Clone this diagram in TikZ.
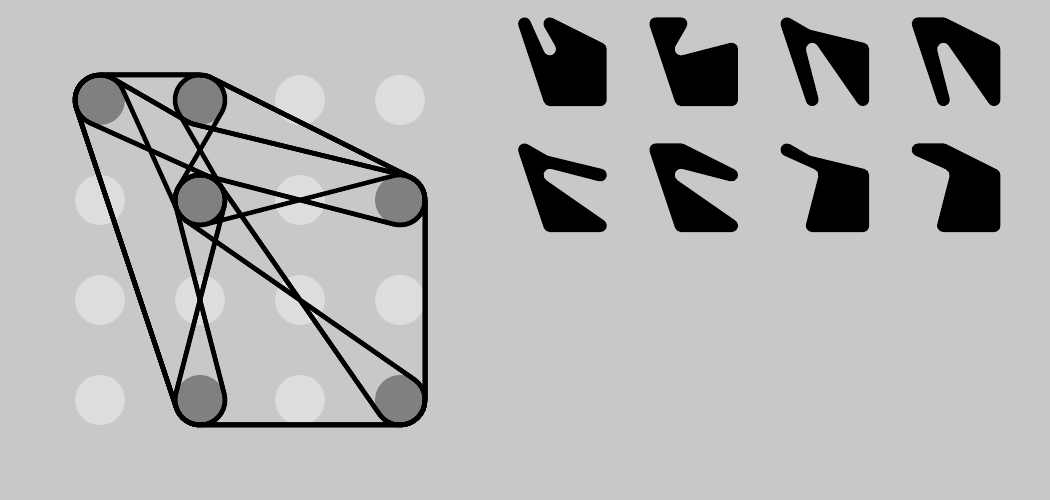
\documentclass[tikz,border=0pt]{standalone}
\usepackage{tikz}
\usetikzlibrary{calc}

\definecolor{bg}{gray}{0.784}
\definecolor{dot}{gray}{0.867}
\definecolor{hit}{gray}{0.5}

\newcommand\rad{0.25cm}
% one rounded corner: #1 connector, #2/#3 previous, #4/#5 this, #6/#7 next (1 = round outside, -1 = cut in)
\newcommand\corner[7]{%
  let \p1=($(#4)-(#2)$), \p2=($(#6)-(#4)$),
      \n1={atan2(\y1,\x1)}, \n2={atan2(\y2,\x2)},
      \n3={\n1+(1+(#3)*(#5))/2*(#5)*90+(1-(#3)*(#5))/2*(180+(#3)*acos(2*\rad/veclen(\x1,\y1)))},
      \n4={\n2+(1+(#5)*(#7))/2*(#5)*90+(1-(#5)*(#7))/2*(#5)*acos(2*\rad/veclen(\x2,\y2))},
      \n5={-(#5)*Mod((#5)*(\n3-\n4),360)}
  in #1 ($(#4)+(\n3:\rad)$) arc[start angle=\n3, delta angle=\n5, radius=\rad]}
\newcommand\blob[6]{\corner{}#6#1#2 \corner{--}#1#2#3 \corner{--}#2#3#4
  \corner{--}#3#4#5 \corner{--}#4#5#6 \corner{--}#5#6#1 -- cycle}

\newcommand\shpA{\blob{{A}{1}}{{C}{-1}}{{B}{1}}{{D}{1}}{{F}{1}}{{E}{1}}}
\newcommand\shpB{\blob{{A}{1}}{{B}{1}}{{C}{-1}}{{D}{1}}{{F}{1}}{{E}{1}}}
\newcommand\shpC{\blob{{A}{1}}{{B}{-1}}{{D}{1}}{{F}{1}}{{C}{-1}}{{E}{1}}}
\newcommand\shpD{\blob{{A}{1}}{{B}{1}}{{D}{1}}{{F}{1}}{{C}{-1}}{{E}{1}}}
\newcommand\shpE{\blob{{A}{1}}{{B}{-1}}{{D}{1}}{{C}{-1}}{{F}{1}}{{E}{1}}}
\newcommand\shpF{\blob{{A}{1}}{{B}{1}}{{D}{1}}{{C}{-1}}{{F}{1}}{{E}{1}}}
\newcommand\shpG{\blob{{A}{1}}{{B}{-1}}{{D}{1}}{{F}{1}}{{E}{1}}{{C}{-1}}}
\newcommand\shpH{\blob{{A}{1}}{{B}{1}}{{D}{1}}{{F}{1}}{{E}{1}}{{C}{-1}}}

\begin{document}
\begin{tikzpicture}[
outline/.style={draw=black, line width=0.045cm, line join=round},
blobfill/.style={fill=black}]
\useasboundingbox (0,0) rectangle (10.5,5);
\fill[bg] (0,0) rectangle (10.5,5);
\foreach \x in {1,...,4}
  \foreach \y in {1,...,4}
    \fill[dot] (\x,\y) circle (\rad);
\coordinate (A) at (1,4);
\coordinate (B) at (2,4);
\coordinate (C) at (2,3);
\coordinate (D) at (4,3);
\coordinate (E) at (2,1);
\coordinate (F) at (4,1);
\foreach \p in {A,B,C,D,E,F}
  \fill[hit] (\p) circle (\rad);
% all outlines on the grid, then each one filled and shrunk
\foreach \shp/\i/\j in {\shpA/0/0,\shpB/1/0,\shpC/2/0,\shpD/3/0,
                        \shpE/0/1,\shpF/1/1,\shpG/2/1,\shpH/3/1}{
  \path[outline] \shp;
  \path[blobfill, transform canvas={shift={(4.992+1.312*\i,3.75-1.26*\j)}, scale=0.253}] \shp;
}
\end{tikzpicture}
\end{document}
